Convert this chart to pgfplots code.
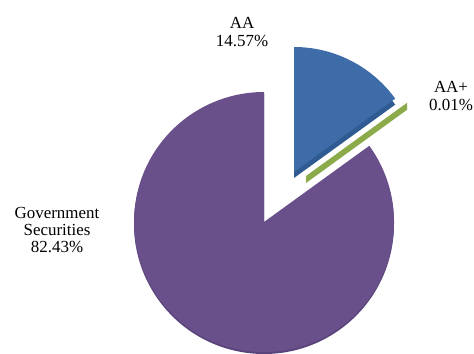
\documentclass[border=0pt]{standalone}
\usepackage{pgfplots}
\pgfplotsset{compat=1.18}
\usepackage{pgfplotstable}
\usepackage{fontspec}
\setmainfont{Liberation Serif}
\definecolor{cGov}{HTML}{6A508B}
\definecolor{cGovD}{HTML}{58437A}
\definecolor{cAA}{HTML}{3E6CA8}
\definecolor{cAAD}{HTML}{2F5A92}
\definecolor{cAAp}{HTML}{8BAA4A}
\pgfplotstableread{
label value
Gov 82.43
AA 14.57
AAp 0.01
}\piedata
\begin{document}%
\pgfplotstablegetelem{0}{value}\of\piedata\let\vGov\pgfplotsretval%
\pgfplotstablegetelem{1}{value}\of\piedata\let\vAA\pgfplotsretval%
\pgfplotstablegetelem{2}{value}\of\piedata\let\vAAp\pgfplotsretval%
\pgfmathsetmacro{\tot}{\vGov+\vAA+\vAAp}%
\pgfmathsetmacro{\sAA}{\vAA/\tot*360}%
\pgfmathsetmacro{\sAAp}{\vAAp/\tot*360}%
\pgfmathsetmacro{\eAA}{90-\sAA}%
\pgfmathsetmacro{\eAAp}{\eAA-\sAAp}%
\pgfmathsetmacro{\gx}{42+125*cos(\eAA)}%
\pgfmathsetmacro{\gy}{46+125*sin(\eAA)}%
\pgfmathsetmacro{\gyb}{\gy-7}%
\begin{tikzpicture}
\begin{axis}[width=474bp,height=354bp,scale only axis,
  xmin=-264,xmax=210,ymin=-132,ymax=222,hide axis,clip=false,
  xtick=\empty,ytick=\empty]
% Government Securities
\fill[cGovD] (axis cs:0,-2) -- ++(\eAAp:130bp) arc[start angle=\eAAp,end angle=-270,radius=130bp] -- cycle;
\fill[cGov] (axis cs:0,0) -- ++(\eAAp:130bp) arc[start angle=\eAAp,end angle=-270,radius=130bp] -- cycle;
% AA (exploded)
\fill[cAAD] (axis cs:30,44) -- ++(90:125bp) arc[start angle=90,end angle=\eAA,radius=125bp] -- cycle;
\fill[cAA] (axis cs:30,50) -- ++(90:125bp) arc[start angle=90,end angle=\eAA,radius=125bp] -- cycle;
% AA+ (exploded, thin)
\fill[cAAp] (axis cs:42,46) -- (axis cs:\gx,\gy) -- (axis cs:\gx,\gyb) -- (axis cs:42,39) -- cycle;
% labels
\node[align=center,font=\fontsize{17}{17.5}\selectfont] at (axis cs:-22,190) {AA\\14.57\%};
\node[align=center,font=\fontsize{17}{17.5}\selectfont] at (axis cs:187,126) {AA+\\0.01\%};
\node[align=center,font=\fontsize{17}{17.5}\selectfont] at (axis cs:-207,-8) {Government\\Securities\\82.43\%};
\end{axis}
\pgfresetboundingbox
\useasboundingbox (current axis.south west) rectangle (current axis.north east);
\end{tikzpicture}%
\end{document}
